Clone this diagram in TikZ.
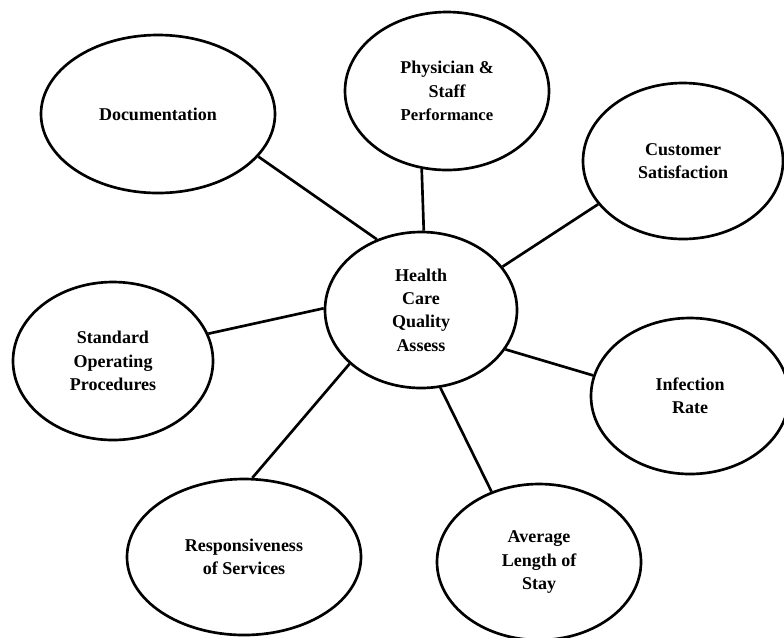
\documentclass[tikz,border=0pt]{standalone}
\usepackage{fontspec}
\setmainfont{Liberation Serif}
\usetikzlibrary{shapes.geometric}
\begin{document}
\begin{tikzpicture}[x=0.75pt,y=-0.75pt,
  bub/.style={ellipse,draw=black,line width=2pt,align=center,inner sep=0pt,
    font=\bfseries\fontsize{13.5}{17.5}\selectfont},
  link/.style={line width=2pt,draw=black}]
\useasboundingbox (0,0) rectangle (784,637);
\node[bub,minimum width=175.5pt,minimum height=118.5pt] (doc) at (158,114) {Documentation};
\node[bub,minimum width=153pt,minimum height=118.5pt] (phy) at (447,91) {Physician \&\\Staff\\{\fontsize{12.5}{15}\selectfont Performance}};
\node[bub,minimum width=150pt,minimum height=117pt] (cus) at (683,161) {Customer\\Satisfaction};
\node[bub,minimum width=144pt,minimum height=117pt] (ctr) at (421,310) {Health\\Care\\Quality\\Assess};
\node[bub,minimum width=150pt,minimum height=118.5pt] (sop) at (113,361) {Standard\\Operating\\Procedures};
\node[bub,minimum width=175.5pt,minimum height=117pt] (res) at (244,557) {Responsiveness\\of Services};
\node[bub,minimum width=153pt,minimum height=117pt] (avg) at (539,562) {Average\\Length of\\Stay};
\node[bub,minimum width=148.5pt,minimum height=117pt] (inf) at (690,396) {Infection\\Rate};
\draw[link] (doc.-23.1) -- (ctr.122.7);
\draw[link] (phy.252.7) -- (ctr.88.5);
\draw[link] (cus.207.9) -- (ctr.28);
\draw[link] (sop.16.6) -- (ctr.179.4);
\draw[link] (res.84.1) -- (ctr.217);
\draw[link] (avg.124.4) -- (ctr.284.2);
\draw[link] (inf.168.8) -- (ctr.-25.2);
\end{tikzpicture}
\end{document}
